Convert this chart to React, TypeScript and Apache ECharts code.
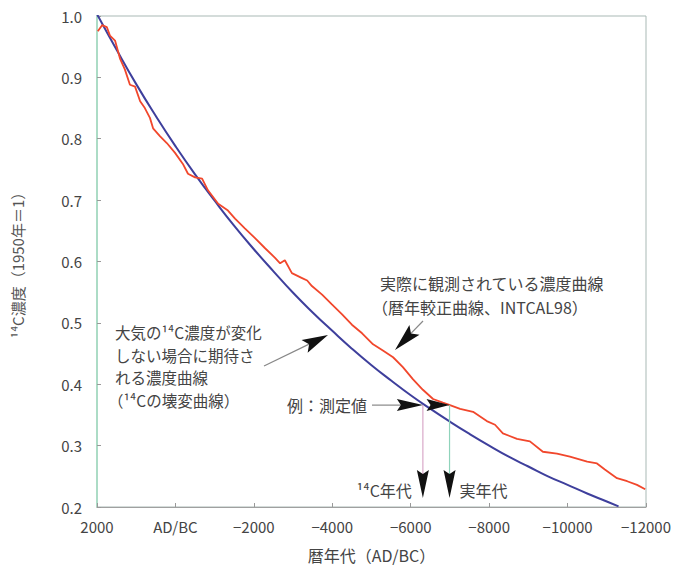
import React, { useEffect, useRef } from "react";
import * as echarts from "echarts";

// Calendar years (AD positive, BC negative) and observed 14C concentration (INTCAL98, red)
const redYears = [
  1980, 1870, 1750, 1670, 1540, 1410, 1290, 1160, 1030, 900, 780, 650, 570, 390, 220, 10,
  -190, -320, -500, -680, -830, -1090, -1340, -1520, -1770, -2030, -2280, -2540, -2670,
  -2790, -2970, -3230, -3360, -3480, -3740, -3990, -4250, -4500, -4760, -5040, -5290,
  -5550, -5800, -6060, -6310, -6570, -6820, -7000, -7260, -7590, -7940, -8150, -8350,
  -8710, -9040, -9370, -9730, -10060, -10500, -10750, -10950, -11260, -11520, -11770, -11980,
];
const redValues = [
  0.975, 0.985, 0.982, 0.968, 0.96, 0.93, 0.913, 0.888, 0.885, 0.861, 0.85, 0.834, 0.817,
  0.804, 0.793, 0.777, 0.759, 0.743, 0.737, 0.735, 0.716, 0.694, 0.683, 0.67, 0.654, 0.638,
  0.622, 0.606, 0.597, 0.602, 0.581, 0.573, 0.569, 0.56, 0.546, 0.53, 0.514, 0.497, 0.483,
  0.465, 0.455, 0.444, 0.428, 0.408, 0.391, 0.376, 0.37, 0.366, 0.36, 0.355, 0.34, 0.334,
  0.32, 0.311, 0.307, 0.29, 0.287, 0.282, 0.274, 0.271, 0.261, 0.247, 0.242, 0.236, 0.229,
];

// Expected decay curve (blue)
const blueYears = [
  2000, 1500, 1000, 500, 0, -500, -1000, -1500, -2000, -2500, -3000, -3500, -4000, -4500,
  -5000, -5500, -6000, -6500, -7000, -7500, -8000, -8500, -9000, -9500, -10000, -10500,
  -11000, -11300,
];
const blueValues = [
  1.003, 0.945, 0.889, 0.837, 0.788, 0.742, 0.699, 0.658, 0.62, 0.584, 0.549, 0.517, 0.487,
  0.458, 0.431, 0.406, 0.382, 0.36, 0.339, 0.319, 0.3, 0.282, 0.266, 0.25, 0.236, 0.222,
  0.209, 0.201,
];

// Example measurement
const measuredValue = 0.366;
const c14Year = -6310;
const realYear = -6990;

const FONT = '"Noto Sans CJK JP", "Noto Sans", sans-serif';
const TEXT = "#444";

function arrow(
  x1: number, y1: number, x2: number, y2: number,
  len: number, half: number, notch: number, shaft: string | null
) {
  const d = Math.hypot(x2 - x1, y2 - y1) || 1;
  const ux = (x2 - x1) / d;
  const uy = (y2 - y1) / d;
  const bx = x2 - ux * len;
  const by = y2 - uy * len;
  const px = -uy;
  const py = ux;
  const nx = x2 - ux * (len - notch);
  const ny = y2 - uy * (len - notch);
  const els: any[] = [];
  if (shaft) {
    els.push({
      type: "line",
      shape: { x1, y1, x2: nx, y2: ny },
      style: { stroke: shaft, lineWidth: 1.2 },
      z: 10,
    });
  }
  els.push({
    type: "polygon",
    shape: {
      points: [
        [x2, y2],
        [bx + px * half, by + py * half],
        [nx, ny],
        [bx - px * half, by - py * half],
      ],
    },
    style: { fill: "#111" },
    z: 11,
  });
  return els;
}

function txt(x: number, y: number, text: string, align = "left", size = 16) {
  return {
    type: "text",
    x,
    y,
    style: {
      text,
      fill: TEXT,
      font: `${size}px ${FONT}`,
      lineHeight: size,
      textAlign: align,
      textVerticalAlign: "middle",
    },
    z: 12,
  };
}

export default function App() {
  const ref = useRef<HTMLDivElement>(null);
  useEffect(() => {
    const chart = echarts.init(ref.current!, null, { renderer: "svg" });
    chart.setOption({
      animation: false,
      backgroundColor: "#fff",
      grid: {
        left: 97,
        right: 29,
        top: 16,
        bottom: 57,
        show: true,
        borderColor: "#a9b9b5",
        borderWidth: 1,
        backgroundColor: "transparent",
      },
      xAxis: {
        type: "value",
        inverse: true,
        min: -12000,
        max: 2000,
        interval: 2000,
        name: "暦年代（AD/BC）",
        nameLocation: "middle",
        nameGap: 40,
        nameTextStyle: { fontFamily: FONT, fontSize: 16, color: TEXT },
        axisLine: { show: true, onZero: false, lineStyle: { color: "#a0a0a0", width: 1 } },
        axisTick: { show: true, inside: true, length: 4, lineStyle: { color: "#999" } },
        splitLine: { show: false },
        axisLabel: {
          fontFamily: FONT,
          fontSize: 15,
          color: TEXT,
          margin: 12,
          formatter: (v: number) => (v === 0 ? "AD/BC" : v < 0 ? "−" + Math.abs(v) : String(v)),
        },
      },
      yAxis: {
        type: "value",
        min: 0.2,
        max: 1.0,
        interval: 0.1,
        name: "¹⁴C濃度（1950年＝1）",
        nameLocation: "middle",
        nameGap: 72,
        nameRotate: 90,
        nameTextStyle: { fontFamily: FONT, fontSize: 15, color: "#555" },
        axisLine: { show: true, onZero: false, lineStyle: { color: "#9fdcbf", width: 1.5 } },
        axisTick: { show: true, inside: true, length: 4, lineStyle: { color: "#999" } },
        splitLine: { show: false },
        axisLabel: {
          fontFamily: FONT,
          fontSize: 15,
          color: TEXT,
          margin: 15,
          formatter: (v: number) => v.toFixed(1),
        },
      },
      series: [
        {
          name: "decay",
          type: "line",
          showSymbol: false,
          smooth: true,
          data: blueYears.map((y, i) => [y, blueValues[i]]),
          lineStyle: { color: "#3e3f9c", width: 2 },
          z: 3,
        },
        {
          name: "intcal98",
          type: "line",
          showSymbol: false,
          data: redYears.map((y, i) => [y, redValues[i]]),
          lineStyle: { color: "#f1472c", width: 1.8 },
          z: 4,
        },
      ],
    });

    const p = (x: number, y: number) =>
      chart.convertToPixel({ gridIndex: 0 }, [x, y]) as number[];
    const [bx, my] = p(c14Year, measuredValue);
    const [rx] = p(realYear, measuredValue);
    const bottomTip = 498;

    const graphic: any[] = [
      // left annotation
      txt(115, 332, "大気の¹⁴C濃度が変化", "left", 15.5),
      txt(115, 355, "しない場合に期待さ", "left", 15.5),
      txt(115, 377, "れる濃度曲線", "left", 15.5),
      txt(108, 400, "（¹⁴Cの壊変曲線）", "left", 15.5),
      ...arrow(264, 366, 328, 335, 26, 7, 5, "#888"),
      // right annotation
      txt(380, 283, "実際に観測されている濃度曲線"),
      txt(372, 307, "（暦年較正曲線、INTCAL98）"),
      ...arrow(423, 321, 395, 350, 28, 7, 5, "#888"),
      // measurement
      txt(367, my, "例：測定値", "right"),
      ...arrow(372, my, bx, my, 26, 6, 4, "#888"),
      ...arrow(bx, my, rx, my, 23, 6, 4, null),
      {
        type: "line",
        shape: { x1: bx, y1: my, x2: bx, y2: bottomTip - 24 },
        style: { stroke: "#d9a9c9", lineWidth: 1.2 },
        z: 9,
      },
      {
        type: "line",
        shape: { x1: rx, y1: my, x2: rx, y2: bottomTip - 24 },
        style: { stroke: "#8fd3bb", lineWidth: 1.2 },
        z: 9,
      },
      ...arrow(bx, my, bx, bottomTip, 28, 6, 4, null),
      ...arrow(rx, my, rx, bottomTip, 28, 6, 4, null),
      txt(bx - 11, 490, "¹⁴C年代", "right"),
      txt(rx + 10, 490, "実年代"),
    ];
    chart.setOption({ graphic });
    return () => chart.dispose();
  }, []);
  return (
    <div
      ref={ref}
      style={{ position: "fixed", left: 0, top: 0, width: 675, height: 568, background: "#fff" }}
    />
  );
}
